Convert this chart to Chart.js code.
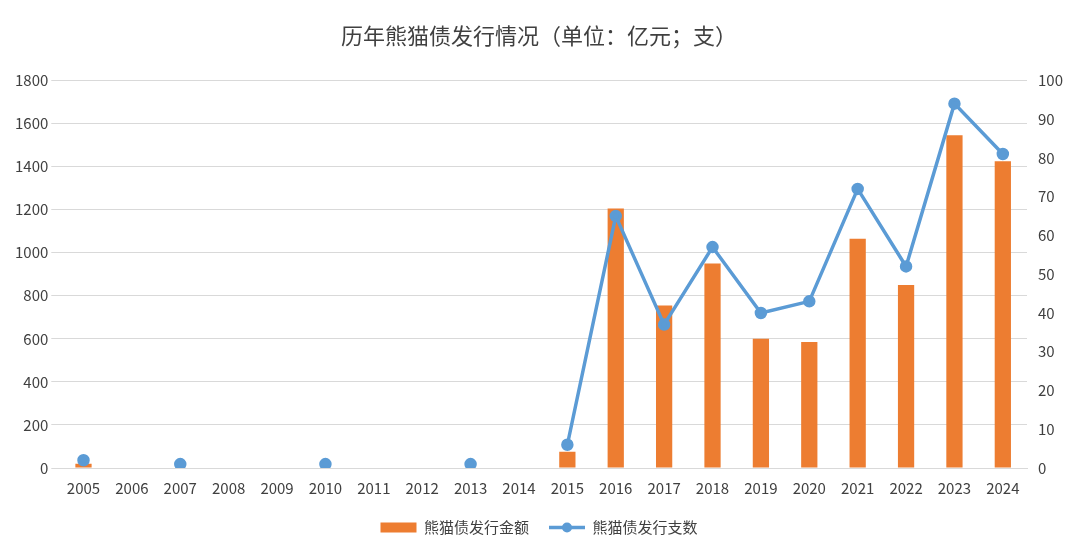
<!DOCTYPE html>
<html>
<head>
<meta charset="utf-8">
<script src="https://cdn.jsdelivr.net/npm/chart.js@4/dist/chart.umd.min.js"></script>
<style>
  html, body { margin: 0; padding: 0; background: #fff; }
  #wrap { width: 1080px; height: 551px; }
</style>
</head>
<body>
<div id="wrap"><canvas id="myChart"></canvas></div>
<script>
const years = ['2005','2006','2007','2008','2009','2010','2011','2012','2013','2014',
  '2015','2016','2017','2018','2019','2020','2021','2022','2023','2024'];
const amounts = [20, 0, 0, 0, 0, 0, 0, 0, 0, 0,
  75, 1205, 755, 950, 600, 585, 1065, 850, 1545, 1425];
const counts = [2, null, 1, null, null, 1, null, null, 1, null,
  6, 65, 37, 57, 40, 43, 72, 52, 94, 81];

const blue = '#5B9BD5';
const font = { family: '"Noto Sans CJK SC", "Noto Sans", sans-serif', size: 15 };

// draws the line-with-dot marker for the line series in the legend
const legendLineMarker = {
  id: 'legendLineMarker',
  afterDraw(chart) {
    const legend = chart.legend;
    const idx = legend.legendItems.findIndex(it => it.datasetIndex === 0);
    const box = legend.legendHitBoxes[idx];
    if (!box) return;
    const ctx = chart.ctx;
    const y = box.top + box.height / 2;
    ctx.save();
    ctx.strokeStyle = blue;
    ctx.lineWidth = 3.5;
    ctx.beginPath();
    ctx.moveTo(box.left, y);
    ctx.lineTo(box.left + 36, y);
    ctx.stroke();
    ctx.fillStyle = blue;
    ctx.beginPath();
    ctx.arc(box.left + 18, y, 5, 0, Math.PI * 2);
    ctx.fill();
    ctx.restore();
  },
};

new Chart(document.getElementById('myChart'), {
  data: {
    labels: years,
    datasets: [
      {
        type: 'line',
        label: '熊猫债发行支数',
        data: counts,
        yAxisID: 'y1',
        borderColor: blue,
        backgroundColor: blue,
        borderWidth: 3.5,
        pointRadius: 4.5,
        pointHoverRadius: 4.5,
        spanGaps: false,
        order: 0,
      },
      {
        type: 'bar',
        label: '熊猫债发行金额',
        data: amounts,
        yAxisID: 'y',
        backgroundColor: '#ED7D31',
        categoryPercentage: 0.8,
        barPercentage: 0.42,
        order: 1,
      },
    ],
  },
  options: {
    animation: false,
    responsive: true,
    maintainAspectRatio: false,
    layout: { padding: { left: 12, right: 14, top: 10, bottom: 6 } },
    plugins: {
      title: {
        display: true,
        text: '历年熊猫债发行情况（单位：亿元；支）',
        color: '#404040',
        font: { family: font.family, size: 22, weight: 'normal' },
        padding: { top: 12, bottom: 32 },
      },
      legend: {
        position: 'bottom',
        reverse: true,
        labels: {
          color: '#404040',
          font: font,
          boxWidth: 36,
          boxHeight: 10,
          padding: 20,
          generateLabels(chart) {
            const items = Chart.defaults.plugins.legend.labels.generateLabels(chart);
            items.forEach(it => {
              if (it.datasetIndex === 0) {
                it.fillStyle = 'rgba(0,0,0,0)';
                it.strokeStyle = 'rgba(0,0,0,0)';
                it.lineWidth = 0;
              }
            });
            return items;
          },
        },
      },
      tooltip: { enabled: false },
    },
    scales: {
      x: {
        grid: { display: false },
        border: { color: '#d9d9d9' },
        ticks: { color: '#404040', font: font, maxRotation: 0 },
      },
      y: {
        position: 'left',
        min: 0, max: 1800,
        ticks: { stepSize: 200, color: '#404040', font: font, callback: v => String(v) },
        grid: { color: '#d9d9d9' },
        border: { display: false },
      },
      y1: {
        position: 'right',
        min: 0, max: 100,
        ticks: { stepSize: 10, color: '#404040', font: font },
        grid: { display: false },
        border: { display: false },
      },
    },
  },
  plugins: [legendLineMarker],
});
</script>
</body>
</html>
